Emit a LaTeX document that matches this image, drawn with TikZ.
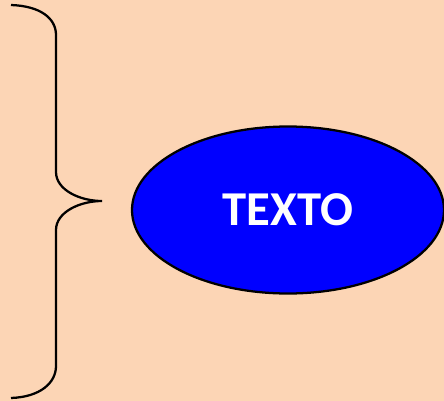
\documentclass[tikz,border=0pt]{standalone}
\usepackage{fontspec}
\setmainfont{Carlito}
\usetikzlibrary{shapes.geometric}

\definecolor{peach}{HTML}{FCD5B5}
\definecolor{ovalblue}{HTML}{0000FF}

\begin{document}
\begin{tikzpicture}[x=0.75pt, y=-0.75pt]
    \tikzset{
        brace/.style={black, line width=1.7pt},
        oval/.style={ellipse, draw=black, line width=1.7pt, fill=ovalblue,
            minimum width=312*0.75pt, minimum height=167*0.75pt, inner sep=0pt,
            text=white, font=\fontsize{36.5}{44}\selectfont\bfseries}
    }

    \fill[peach] (0, 0) rectangle (444, 401);
    \useasboundingbox (0, 0) rectangle (444, 401);

    \coordinate (top) at (11, 5);
    \coordinate (tip) at (102, 201);
    \coordinate (bottom) at (11, 398);

    % curly brace
    \draw[brace] (top) .. controls (40, 6) and (56, 18) .. (56, 35)
        -- (56, 172) .. controls (56, 190) and (80, 201) .. (tip)
        .. controls (80, 201) and (56, 212) .. (56, 230)
        -- (56, 366) .. controls (56, 383) and (40, 397) .. (bottom);

    \node[oval] (texto) at (288, 210) {TEXTO};
\end{tikzpicture}
\end{document}
